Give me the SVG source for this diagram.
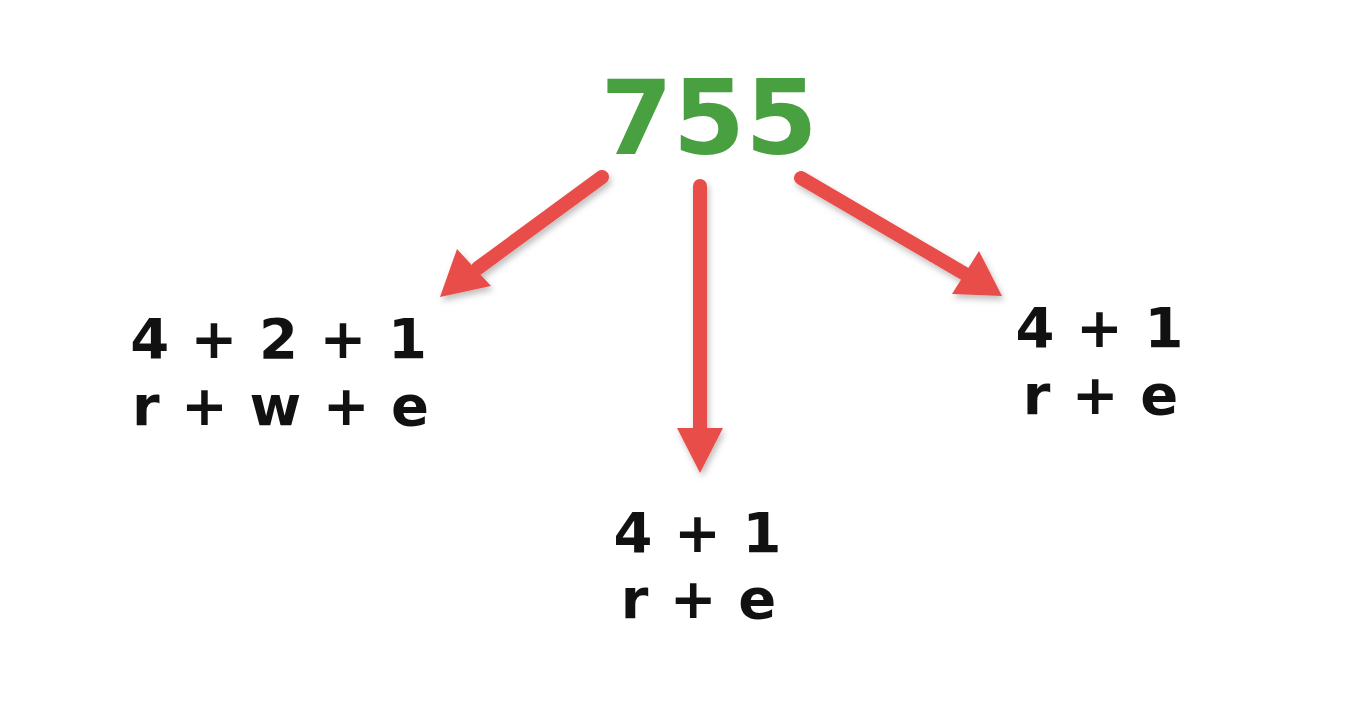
<svg xmlns="http://www.w3.org/2000/svg" width="1350" height="724" viewBox="0 0 1350 724">
<style>
.lbl{font-family:"DejaVu Sans",Verdana,sans-serif;font-weight:bold;font-size:56px;letter-spacing:1px;fill:#111;text-anchor:middle}
.big{font-family:"DejaVu Sans",sans-serif;font-weight:bold;font-size:104px;fill:#48a040;text-anchor:middle}
.arr{stroke:#e84e4a;stroke-width:14;stroke-linecap:round;fill:none}
.head{fill:#e84e4a}
</style>
<defs>
<filter id="sh" x="-20%" y="-20%" width="140%" height="140%">
<feDropShadow dx="2" dy="4" stdDeviation="3" flood-color="#000" flood-opacity="0.25"/>
</filter>
</defs>
<rect width="1350" height="724" fill="#fff"/>
<g id="root"><text class="big" x="709" y="154">755</text></g>
<g id="connectors" filter="url(#sh)">
<line class="arr" x1="602" y1="177" x2="478" y2="268"/>
<polygon class="head" points="440,297 457,249 491,286"/>
<line class="arr" x1="700" y1="186" x2="700" y2="436"/>
<polygon class="head" points="700,473 677,428 723,428"/>
<line class="arr" x1="801" y1="178" x2="965" y2="274"/>
<polygon class="head" points="1002,296 952,294 979,251"/>
</g>
<g id="left">
<text class="lbl" x="279" y="358">4 + 2 + 1</text>
<text class="lbl" x="281" y="425">r + w + e</text>
</g>
<g id="middle">
<text class="lbl" x="698" y="552">4 + 1</text>
<text class="lbl" x="699" y="618">r + e</text>
</g>
<g id="right">
<text class="lbl" x="1100" y="347">4 + 1</text>
<text class="lbl" x="1101" y="414">r + e</text>
</g>
</svg>
